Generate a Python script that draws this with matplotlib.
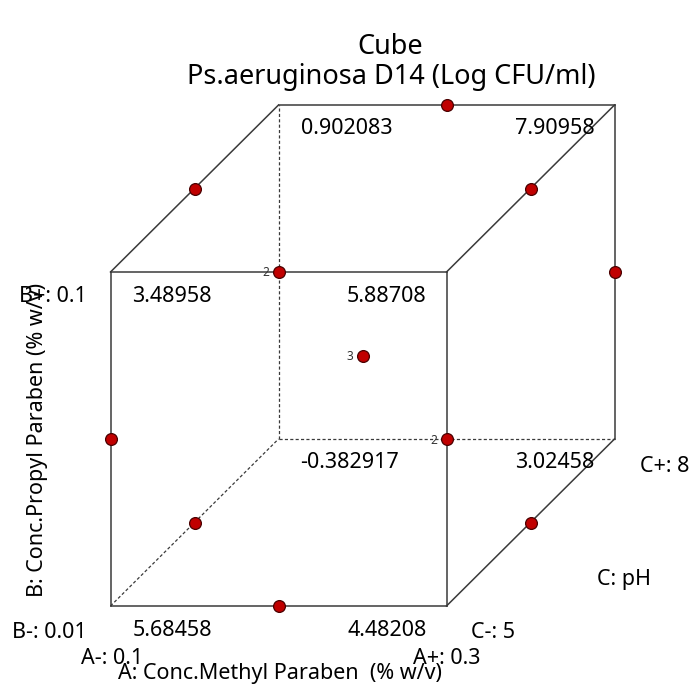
import numpy as np
import matplotlib.pyplot as plt

plt.rcParams['font.family'] = ['Noto Sans', 'DejaVu Sans']

# predicted response at the cube corners (A, B, C coded -1/+1)
corner_A = [-1, 1, -1, 1, -1, 1, -1, 1]
corner_B = [-1, -1, 1, 1, -1, -1, 1, 1]
corner_C = [-1, -1, -1, -1, 1, 1, 1, 1]
corner_vals = ["5.68458", "4.48208", "3.48958", "5.88708",
               "-0.382917", "3.02458", "0.902083", "7.90958"]

# design points (coded) and how many share the same spot on screen
pt_A = [0, -1, 1, 0, 1, 0, 0, -1, -1, 1, 0]
pt_B = [1, 1, 1, 1, 0, 0, -1, 0, -1, -1, -1]
pt_C = [1, 0, 0, -1, 1, 0, 1, -1, 0, 0, -1]
pt_count = [1, 1, 1, 2, 1, 3, 2, 1, 1, 1, 1]

title = "Cube"
subtitle = "Ps.aeruginosa D14 (Log CFU/ml)"
a_name, a_lo, a_hi = "A: Conc.Methyl Paraben  (% w/v)", "A-: 0.1", "A+: 0.3"
b_name, b_lo, b_hi = "B: Conc.Propyl Paraben (% w/v)", "B-: 0.01", "B+: 0.1"
c_name, c_lo, c_hi = "C: pH", "C-: 5", "C+: 8"


def proj(a, b, c):
    # oblique projection of the coded cube into pixel space
    a, b, c = np.asarray(a, float), np.asarray(b, float), np.asarray(c, float)
    x = 362.5 + 168 * a + 84 * c
    y = 355.5 - 167 * b - 83.5 * c
    return x, y


fig = plt.figure(figsize=(7, 6.89), dpi=100)
ax = fig.add_axes([0, 0, 1, 1])
ax.set_xlim(0, 700)
ax.set_ylim(689, 0)
ax.axis('off')

edge_col = '#3a3a3a'
hidden = (-1, -1, 1)
verts = [(a, b, c) for a in (-1, 1) for b in (-1, 1) for c in (-1, 1)]
for i, v in enumerate(verts):
    for w in verts[i + 1:]:
        if sum(p != q for p, q in zip(v, w)) != 1:
            continue
        xs, ys = proj([v[0], w[0]], [v[1], w[1]], [v[2], w[2]])
        if v == hidden or w == hidden:
            ax.plot(xs, ys, color=edge_col, lw=0.9, dashes=(2.5, 1.8), zorder=1)
        else:
            ax.plot(xs, ys, color=edge_col, lw=1.1, zorder=2)

# corner values
fs = 15.5
for a, b, c, s in zip(corner_A, corner_B, corner_C, corner_vals):
    x, y = proj(a, b, c)
    if a < 0:
        ax.text(x + 22, y + 24, s, ha='left', va='center', fontsize=fs)
    else:
        ax.text(x - 20, y + 24, s, ha='right', va='center', fontsize=fs)

# design points
px, py = proj(pt_A, pt_B, pt_C)
ax.plot(px, py, 'o', ms=8.5, mfc='#c00000', mec='#4a0000', mew=0.9, ls='none', zorder=5)
for x, y, n in zip(px, py, pt_count):
    if n > 1:
        ax.text(x - 9, y + 1, str(n), ha='right', va='center', fontsize=8.5, color='#333333')

# titles
ax.text(390, 47, title, ha='center', va='center', fontsize=19.5)
ax.text(391, 77, subtitle, ha='center', va='center', fontsize=19.5)

# factor labels
ax.text(87, 297, b_hi, ha='right', va='center', fontsize=fs)
ax.text(87, 633, b_lo, ha='right', va='center', fontsize=fs)
ax.text(38, 440, b_name, ha='center', va='center', rotation=90, fontsize=fs)

ax.text(112, 658, a_lo, ha='center', va='center', fontsize=fs)
ax.text(447, 658, a_hi, ha='center', va='center', fontsize=fs)
ax.text(280, 673, a_name, ha='center', va='center', fontsize=fs)

ax.text(471, 632, c_lo, ha='left', va='center', fontsize=fs)
ax.text(640, 467, c_hi, ha='left', va='center', fontsize=fs)
ax.text(597, 580, c_name, ha='left', va='center', fontsize=fs)

fig.savefig('out.png', dpi=100)
